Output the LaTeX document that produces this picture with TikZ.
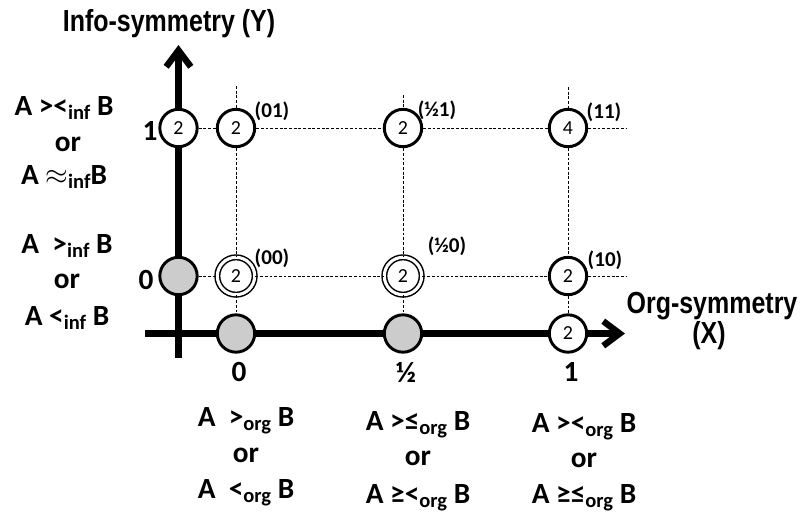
\documentclass[tikz,border=0pt]{standalone}
\usepackage{fontspec}
\setmainfont{Carlito}
\newfontfamily\narrowsf[FakeStretch=0.82]{Liberation Sans}
\usetikzlibrary{arrows.meta}
\newcommand{\subs}[1]{\raisebox{-0.3ex}{\fontsize{17.5}{17.5}\selectfont #1}}
\tikzset{
  axisln/.style    = {line width=5.5pt, -{Straight Barb[length=14pt,width=21pt]}},
  gridln/.style    = {line width=0.8pt, dash pattern=on 2.5pt off 1.5pt},
  statecirc/.style = {circle, draw, line width=2.5pt, fill=white, minimum size=31.9pt,
                      inner sep=0pt, font=\fontsize{17}{17}\selectfont},
  graycirc/.style  = {statecirc, fill=gray!40},
  dblcirc/.style   = {statecirc, line width=1.3pt, double, double distance=2.6pt},
  ticklbl/.style   = {inner sep=0pt, font=\fontsize{25}{25}\selectfont\bfseries},
  rellbl/.style    = {anchor=base, inner sep=0pt, font=\fontsize{25}{25}\selectfont\bfseries},
  pairlbl/.style   = {inner sep=0pt, font=\fontsize{18}{18}\selectfont\bfseries},
  axtitle/.style   = {anchor=base, inner sep=0pt, font=\fontsize{26}{26}\selectfont\narrowsf\bfseries}
}

\begin{document}
\begin{tikzpicture}[x=0.03cm,y=-0.03cm]
  \useasboundingbox (0,0) rectangle (804,519);
  % axes
  \coordinate (ybot) at (178.5,358);
  \coordinate (ytop) at (178.5,45);
  \coordinate (xlft) at (145,333.5);
  \coordinate (xrgt) at (625,333.5);
  \draw[axisln] (ybot) -- (ytop);
  \draw[axisln] (xlft) -- (xrgt);
  \node[axtitle] (ytitle) at (169,31) {Info-symmetry (Y)};
  \node[axtitle] (xtitle) at (712,313) {Org-symmetry};
  \node[axtitle] (xtitleb) at (709,343) {(X)};
  % states on the axes
  \node[statecirc] (y1) at (178.5,128) {2};
  \node[graycirc]  (y0) at (178.5,276) {};
  \node[graycirc]  (x0) at (236,333.5) {};
  \node[graycirc]  (xh) at (403,333.5) {};
  \node[statecirc] (x1) at (568,333.5) {2};
  % states in the grid
  \node[statecirc] (s01) at (236,128) {2};
  \node[statecirc] (sh1) at (403,128) {2};
  \node[statecirc] (s11) at (568,128) {4};
  \node[dblcirc]   (s00) at (236,276) {2};
  \node[dblcirc]   (sh0) at (403,276) {2};
  \node[statecirc] (s10) at (568,276) {2};
  \node[pairlbl] (p01) at (272,111) {(01)};
  \node[pairlbl] (ph1) at (437,110) {(½1)};
  \node[pairlbl] (p11) at (604,112) {(11)};
  \node[pairlbl] (p00) at (272,258) {(00)};
  \node[pairlbl] (ph0) at (447,246) {(½0)};
  \node[pairlbl] (p10) at (605,260) {(10)};
  % dashed grid
  \coordinate (r1end) at (627,128);
  \coordinate (r0end) at (627,276);
  \coordinate (c0top) at (236,86);
  \coordinate (chtop) at (403,95);
  \coordinate (c1top) at (568,87);
  \draw[gridln] (y1) -- (s01) -- (sh1) -- (s11) -- (r1end);
  \draw[gridln] (y0) -- (s00) -- (sh0) -- (s10) -- (r0end);
  \draw[gridln] (c0top) -- (s01) -- (s00) -- (x0);
  \draw[gridln] (chtop) -- (sh1) -- (sh0) -- (xh);
  \draw[gridln] (c1top) -- (s11) -- (s10) -- (x1);
  % tick values
  \node[ticklbl] (ty1) at (150,131) {1};
  \node[ticklbl] (ty0) at (146,280) {0};
  \node[ticklbl] (tx0) at (239,372) {0};
  \node[ticklbl] (txh) at (406,372) {½};
  \node[ticklbl] (tx1) at (571,372) {1};
  % relations, info side
  \node[rellbl] (li1) at (64,115) {A ><\subs{inf} B};
  \node[rellbl] (li2) at (68,151) {or};
  \node[rellbl] (li3) at (64,184) {A $\approx$\subs{inf}B};
  \node[rellbl] (li4) at (67,253) {A\ \ >\subs{inf} B};
  \node[rellbl] (li5) at (67,288) {or};
  \node[rellbl] (li6) at (67,325) {A <\subs{inf} B};
  % relations, org side
  \node[rellbl] (lo1) at (246,426) {A\ \ >\subs{org} B};
  \node[rellbl] (lo2) at (246,462) {or};
  \node[rellbl] (lo3) at (246,498) {A\ \ <\subs{org} B};
  \node[rellbl] (lo4) at (418,430) {A >≤\subs{org} B};
  \node[rellbl] (lo5) at (418,465) {or};
  \node[rellbl] (lo6) at (418,503) {A ≥<\subs{org} B};
  \node[rellbl] (lo7) at (584,432) {A ><\subs{org} B};
  \node[rellbl] (lo8) at (584,467) {or};
  \node[rellbl] (lo9) at (584,503) {A ≥≤\subs{org} B};
\end{tikzpicture}
\end{document}
